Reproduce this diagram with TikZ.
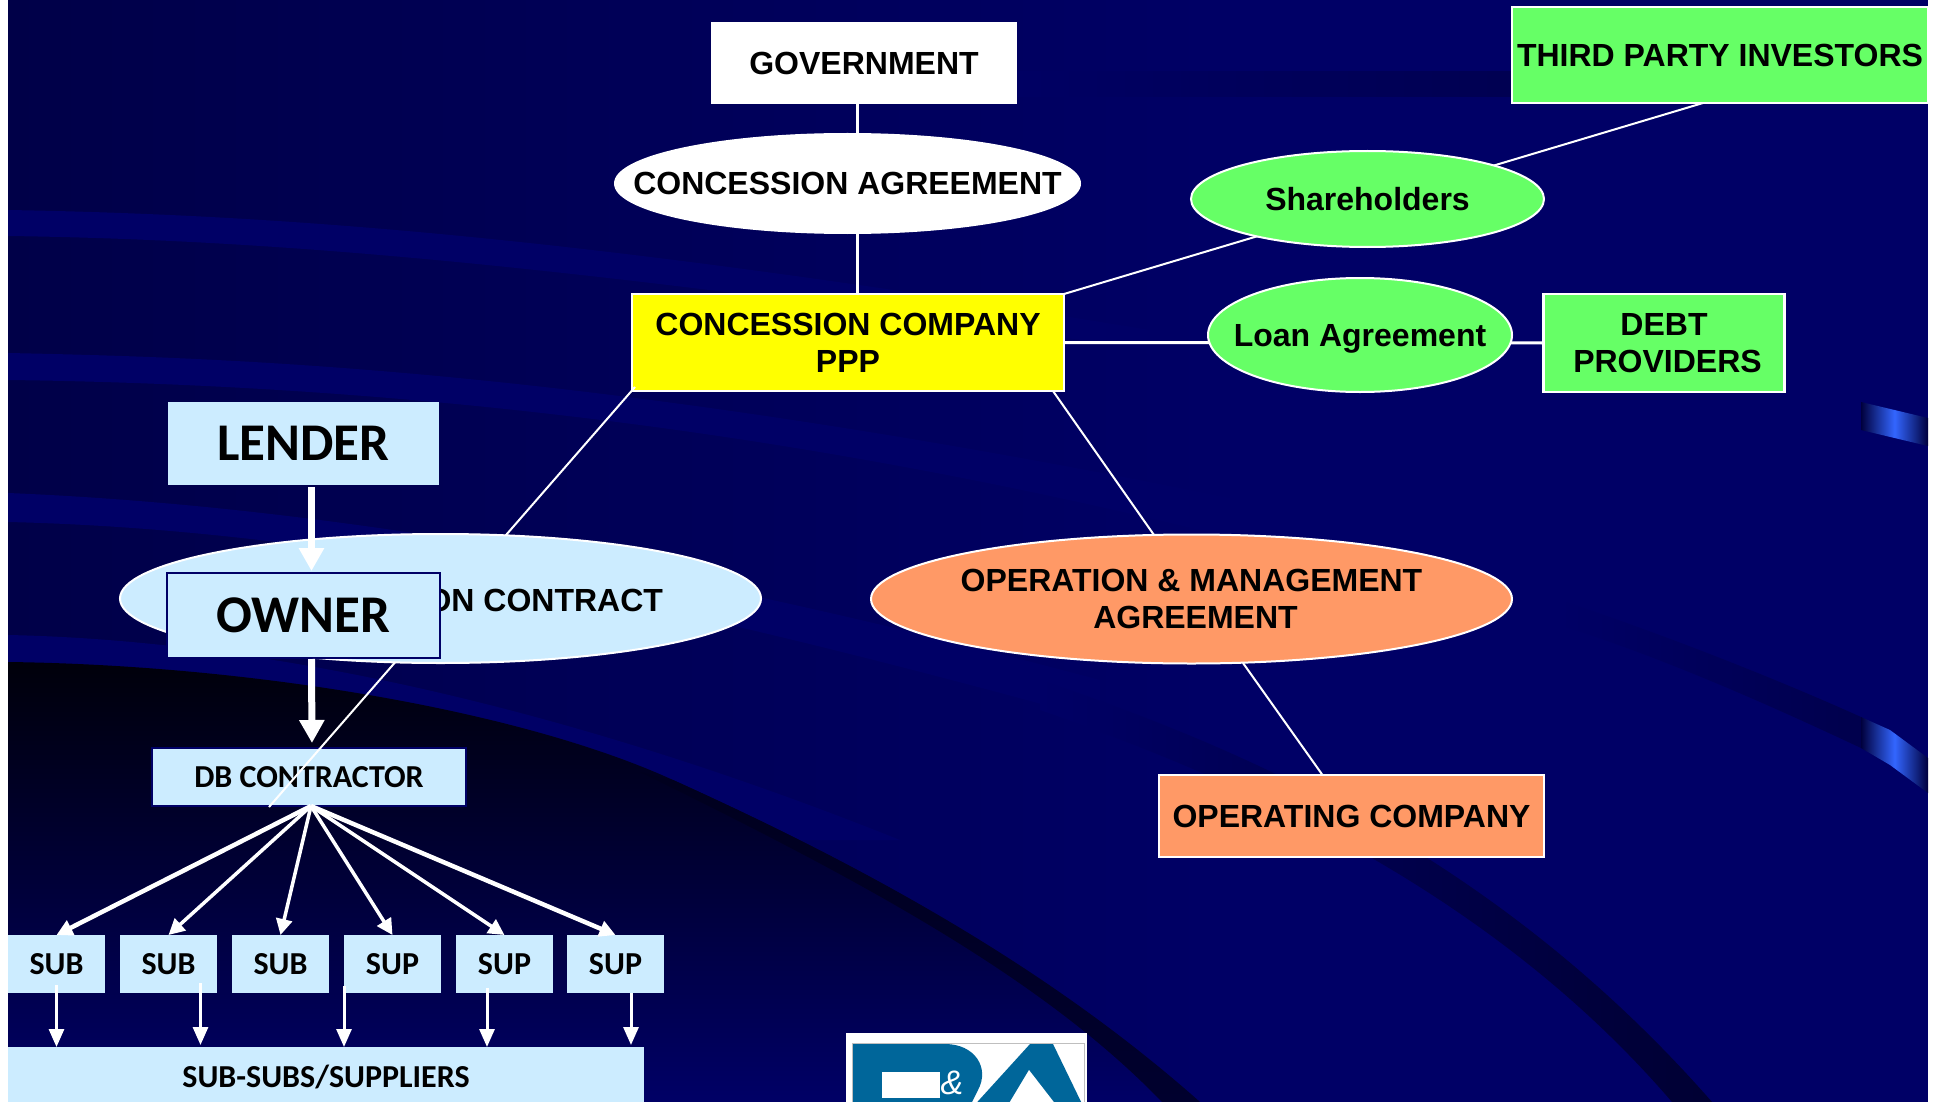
\documentclass[tikz,border=0pt]{standalone}
\usepackage{fontspec}
\setmainfont{Liberation Sans}
\newfontfamily\calibfont{Carlito}
\usetikzlibrary{shapes.geometric,arrows.meta}
\definecolor{navybg}{HTML}{000066}
\definecolor{navyleft}{HTML}{000048}
\definecolor{skybox}{HTML}{CCECFF}
\definecolor{greenbox}{HTML}{66FF66}
\definecolor{orangebox}{HTML}{FF9966}
\definecolor{yellowbox}{HTML}{FFFF00}
\definecolor{logoblue}{HTML}{00669A}
\definecolor{streakblue}{HTML}{3366FF}
\tikzset{
  arial/.style={font=\fontsize{32}{37}\selectfont\bfseries,align=center,text=black,inner sep=0pt,outer sep=0pt},
  calib/.style={font=\fontsize{32}{37}\selectfont\calibfont\bfseries,align=center,text=black,inner sep=0pt,outer sep=0pt},
  calibbig/.style={font=\fontsize{53}{60}\selectfont\calibfont\bfseries,align=center,text=black,inner sep=0pt,outer sep=0pt},
  rimbox/.style={arial,rectangle,draw=white,line width=2.5pt,fill=#1},
  rimoval/.style={arial,ellipse,draw=white,line width=2pt,fill=#1,inner xsep=-60pt},
  subbox/.style={calib,rectangle,fill=skybox,minimum width=97pt,minimum height=58pt},
  thinlink/.style={draw=white,line width=2pt},
  fatarrow/.style={draw=white,line width=7pt,-{Triangle[length=23pt,width=24pt]}},
  fanarrow/.style={draw=white,line width=3.5pt,-{Triangle[length=16pt,width=16pt]}},
  downarrow/.style={draw=white,line width=3pt,-{Triangle[length=18pt,width=15pt]}}
}
\begin{document}
\begin{tikzpicture}[x=1pt,y=-1pt]
\useasboundingbox (0,0) rectangle (1940,1102);
\clip (0,0) rectangle (1940,1102);

% slide background
\fill[white] (0,0) rectangle (1940,1102);
\fill[navybg] (8,0) rectangle (1928,1102);
\shade[left color=navyleft,right color=navybg] (8,0) rectangle (1250,1102);
\shade[left color=navybg!98!black,right color=navybg!80!black] (1000,72) rectangle (1512,97);

\fill[navybg] (8,210) .. controls (300,215) and (600,240) .. (1150,330) -- (1150,350) .. controls (600,270) and (300,240) .. (8,236) -- cycle;
\fill[navybg] (8,353) .. controls (250,358) and (600,370) .. (1240,500) -- (1240,540) .. controls (800,430) and (400,385) .. (8,380) -- cycle;
\fill[navybg] (8,493) .. controls (300,505) and (650,560) .. (1100,680) -- (1100,720) .. controls (700,610) and (350,530) .. (8,522) -- cycle;
\fill[navybg] (8,635) .. controls (250,640) and (550,700) .. (900,840) -- (8,840) -- cycle;

\shade[top color=black!90!navybg,middle color=navybg!92!black,bottom color=navybg] (8,662) .. controls (250,665) and (520,710) .. (673,780) .. controls (850,860) and (1040,960) .. (1190,1102) -- (8,1102) -- cycle;
\shade[top color=navybg!30!black,bottom color=navybg!45!black] (673,780) .. controls (850,860) and (1040,960) .. (1200,1102) -- (1162,1102) .. controls (1040,975) and (850,875) .. (640,772) -- cycle;
\shade[left color=navybg,middle color=navybg!65!black,right color=navybg!50!black] (1040,680) .. controls (1250,750) and (1500,860) .. (1712,1102) -- (1672,1102) .. controls (1490,890) and (1240,780) .. (1040,710) -- cycle;
\shade[left color=navybg,right color=navybg!75!black] (1560,600) .. controls (1680,640) and (1790,685) .. (1861,717) -- (1861,748) .. controls (1780,710) and (1670,660) .. (1560,625) -- cycle;

\shade[left color=navybg!60!black,right color=navybg!60!black,middle color=streakblue] (1861,402) -- (1928,418) -- (1928,446) -- (1861,430) -- cycle;
\shade[left color=navybg!60!black,right color=navybg!60!black,middle color=streakblue] (1861,717) -- (1890,730) -- (1928,758) -- (1928,793) -- (1890,765) -- (1861,748) -- cycle;

% logo
\fill[white] (846,1033) rectangle (1087,1110);
\draw[line width=1pt,color=black!25] (852,1110) -- (852,1043) -- (1084,1043) -- (1084,1110);
\fill[logoblue] (853,1044) -- (945,1044) .. controls (975,1044) and (990,1068) .. (978,1090) -- (968,1110) -- (853,1110) -- cycle;
\fill[white] (882,1072) rectangle (940,1098);
\fill[logoblue] (1030,1044) -- (1053,1044) -- (1085,1110) -- (970,1110) -- cycle;
\fill[white] (1029,1070) -- (1060,1110) -- (1005,1110) -- cycle;
\node (logoamp) at (952,1083) [font=\fontsize{34}{34}\selectfont\itshape,text=white,inner sep=0pt] {\&};

% lower boxes, under the lines
\node (db) at (309,777) [calib,rectangle,draw=navybg,line width=1.5pt,fill=skybox,minimum width=314pt,minimum height=58pt] {DB CONTRACTOR};
\node (comp) at (848,342.5) [rimbox=yellowbox,minimum width=432pt,minimum height=97pt] {CONCESSION COMPANY\\PPP};
\node (gov) at (864,63) [arial,rectangle,fill=white,minimum width=306pt,minimum height=82pt] {GOVERNMENT};
\node (third) at (1720,55) [rimbox=greenbox,minimum width=416pt,minimum height=96pt] {THIRD PARTY INVESTORS};
\node (debt) at (1664,343) [rimbox=greenbox,minimum width=241pt,minimum height=98pt] {DEBT\\\hspace*{7pt}PROVIDERS};
\node (opco) at (1351.5,816) [rimbox=orangebox,minimum width=385pt,minimum height=82pt] {OPERATING COMPANY};

\coordinate (dbend) at (269,807);
\coordinate (omtop) at (1154,535);
\coordinate (ombot) at (1243,663);
\draw[thinlink,line width=3pt] ([xshift=-7pt]gov.south) -- ([xshift=9pt]comp.north);
\draw[thinlink] (comp.north east) -- ([xshift=-17pt]third.south);
\draw[thinlink,line width=3pt] (comp.east) -- (debt.west);
\draw[thinlink] ([xshift=-11pt]comp.south east) -- (omtop);
\draw[thinlink] ([xshift=3pt,yshift=4pt]comp.south west) -- (dbend);
\draw[thinlink] (ombot) -- ([xshift=-29pt]opco.north);

% ovals
\node (concag) at (847.5,183.5) [rimoval=white,minimum width=465pt,minimum height=99pt] {CONCESSION AGREEMENT};
\node (share) at (1367.5,199) [rimoval=greenbox,minimum width=353pt,minimum height=96pt] {Shareholders};
\node (loan) at (1360,335) [rimoval=greenbox,minimum width=304pt,minimum height=114pt,text depth=-2pt] {Loan Agreement};
\node (om) at (1191.5,599) [rimoval=orangebox,minimum width=641pt,minimum height=129pt] {OPERATION \& MANAGEMENT\\\hspace*{8pt}AGREEMENT};
\node (conc) at (440.5,598.5) [rimoval=skybox,minimum width=641pt,minimum height=129pt] {};
\node (conctext) at (663,600) [arial,anchor=east] {ON CONTRACT};

% owner side
\node (lender) at (303.5,443.5) [calibbig,rectangle,fill=skybox,minimum width=271pt,minimum height=83pt] {LENDER};
\node (owner) at (303.5,615.5) [calibbig,rectangle,fill=skybox,minimum width=273pt,minimum height=85pt] {OWNER};
\draw[fatarrow,shorten <=2pt,shorten >=2pt] ([xshift=8pt]lender.south) -- ([xshift=8pt]owner.north);
\node (ownerrim) at (owner.center) [calibbig,rectangle,draw=navybg,line width=2pt,fill=skybox,minimum width=273pt,minimum height=85pt] {OWNER};
\draw[fatarrow,shorten <=1pt,shorten >=5pt] ([xshift=8pt]owner.south) -- ([xshift=3pt]db.north);

\pgfmathsetmacro{\suby}{964};
\node (subA) at (56.5,\suby) [subbox] {SUB};
\node (subB) at (168.5,\suby) [subbox] {SUB};
\node (subC) at (280.5,\suby) [subbox] {SUB};
\node (supA) at (392.5,\suby) [subbox] {SUP};
\node (supB) at (504.5,\suby) [subbox] {SUP};
\node (supC) at (615.5,\suby) [subbox] {SUP};
\node (subs) at (326,1077) [calib,rectangle,fill=skybox,minimum width=636pt,minimum height=60pt] {SUB-SUBS/SUPPLIERS};

\draw[fanarrow,line width=4.5pt] ([xshift=2pt]db.south) -- (subA.north);
\draw[fanarrow] ([xshift=2pt]db.south) -- (subB.north);
\draw[fanarrow] ([xshift=2pt]db.south) -- (subC.north);
\draw[fanarrow] ([xshift=2pt]db.south) -- (supA.north);
\draw[fanarrow] ([xshift=2pt]db.south) -- (supB.north);
\draw[fanarrow,line width=4.5pt] ([xshift=2pt]db.south) -- (supC.north);

\draw[downarrow] ([yshift=8pt]subA.south) -- (subA.south |- subs.north);
\draw[downarrow] ([xshift=32pt,yshift=10pt]subB.south) -- ([xshift=32pt,yshift=2pt]subB.south |- subs.north);
\draw[downarrow] ([yshift=7pt]supA.south west) -- (supA.south west |- subs.north);
\draw[downarrow] ([xshift=-17.5pt,yshift=5pt]supB.south) -- ([xshift=-17.5pt]supB.south |- subs.north);
\draw[downarrow] ([xshift=15.5pt]supC.south) -- ([xshift=15.5pt,yshift=2pt]supC.south |- subs.north);
\end{tikzpicture}
\end{document}
